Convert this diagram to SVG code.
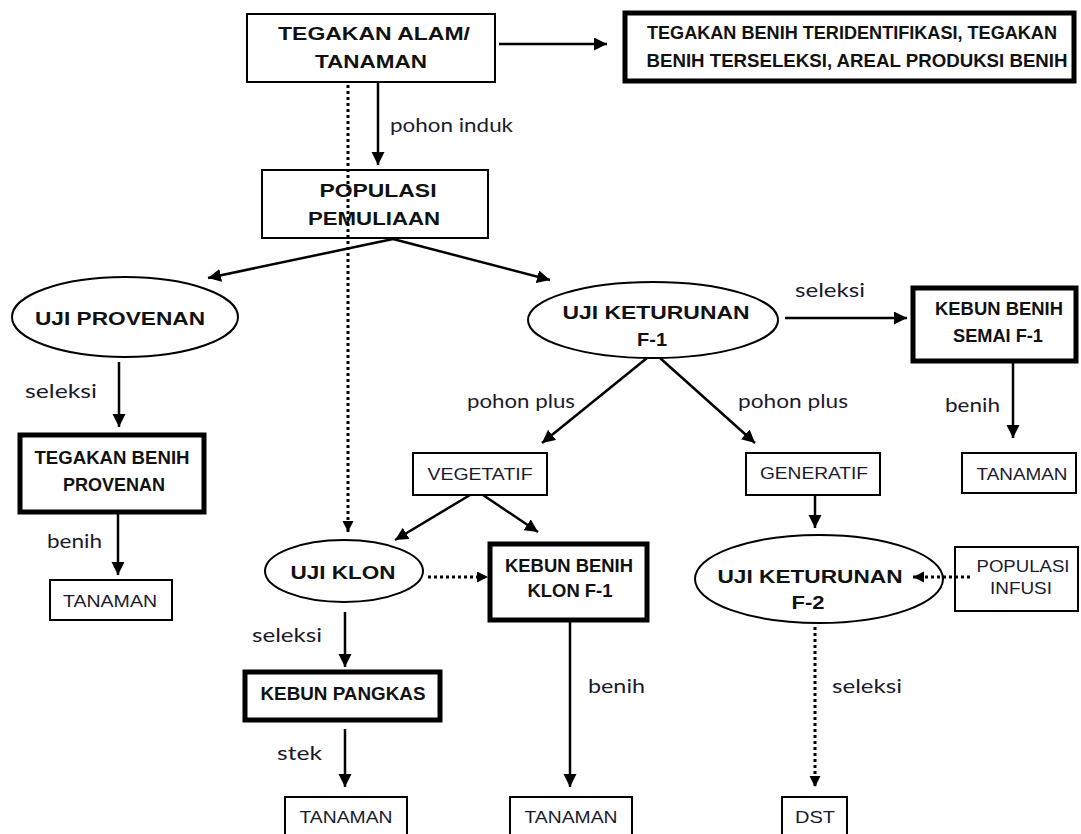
<svg xmlns="http://www.w3.org/2000/svg" width="1081" height="834" viewBox="0 0 1081 834">
<defs>
<marker id="ah" markerUnits="userSpaceOnUse" markerWidth="14" markerHeight="14" refX="13" refY="6.5" orient="auto">
<path d="M0,0 L13,6.5 L0,13 z" fill="#000"/>
</marker>
<marker id="ahs" markerUnits="userSpaceOnUse" markerWidth="12" markerHeight="12" refX="11" refY="5.5" orient="auto">
<path d="M0,0 L11,5.5 L0,11 z" fill="#000"/>
</marker>
</defs>
<style>
.box{fill:#fff;stroke:#000;stroke-width:2}
.thick{fill:#fff;stroke:#000;stroke-width:5}
.ell{fill:#fff;stroke:#000;stroke-width:2}
.b{font-family:"Liberation Sans",Arial,sans-serif;font-weight:bold;font-size:18px;fill:#111;text-anchor:middle}
.r{font-family:"Liberation Sans",Arial,sans-serif;font-size:17px;fill:#1a1a2e;text-anchor:middle}
.lbl{font-family:Lato,"Open Sans",sans-serif;font-size:19px;fill:#1a1a2e}
.c{stroke:#000;stroke-width:2.5;fill:none;marker-end:url(#ah)}
.d{stroke:#000;stroke-width:3;stroke-dasharray:3 3;fill:none;marker-end:url(#ahs)}
</style>
<rect width="1081" height="834" fill="#fff"/>

<g id="tegakan-alam">
<rect class="box" x="247" y="14" width="248" height="68"/>
<text class="b" x="374" y="40" textLength="192" lengthAdjust="spacingAndGlyphs" font-size="20">TEGAKAN ALAM/</text>
<text class="b" x="371" y="68" textLength="112" lengthAdjust="spacingAndGlyphs" font-size="20">TANAMAN</text>
</g>

<g id="tegakan-benih-teridentifikasi">
<rect class="thick" x="625" y="13" width="449" height="68"/>
<text class="b" x="852" y="39" textLength="410" lengthAdjust="spacingAndGlyphs" font-size="17">TEGAKAN BENIH TERIDENTIFIKASI, TEGAKAN</text>
<text class="b" x="857" y="67" textLength="421" lengthAdjust="spacingAndGlyphs" font-size="17">BENIH  TERSELEKSI, AREAL PRODUKSI BENIH</text>
</g>

<g id="populasi-pemuliaan">
<rect class="box" x="262" y="170" width="226" height="68"/>
<text class="b" x="378" y="197" textLength="117" lengthAdjust="spacingAndGlyphs" font-size="19">POPULASI</text>
<text class="b" x="374" y="225" textLength="132" lengthAdjust="spacingAndGlyphs" font-size="19">PEMULIAAN</text>
</g>

<g id="uji-provenan">
<ellipse class="ell" cx="125" cy="317" rx="113" ry="40"/>
<text class="b" x="120" y="325" textLength="170" lengthAdjust="spacingAndGlyphs" font-size="19">UJI PROVENAN</text>
</g>

<g id="tegakan-benih-provenan">
<rect class="thick" x="20" y="435" width="184" height="77"/>
<text class="b" x="112" y="464" textLength="155" lengthAdjust="spacingAndGlyphs">TEGAKAN BENIH</text>
<text class="b" x="114" y="491" textLength="102" lengthAdjust="spacingAndGlyphs">PROVENAN</text>
</g>

<g id="tanaman-1">
<rect class="box" x="50" y="580" width="122" height="40"/>
<text class="r" x="110" y="607" textLength="94" lengthAdjust="spacingAndGlyphs">TANAMAN</text>
</g>

<g id="uji-keturunan-f1">
<ellipse class="ell" cx="653" cy="320" rx="125" ry="38"/>
<text class="b" x="656" y="319" textLength="187" lengthAdjust="spacingAndGlyphs" font-size="19">UJI KETURUNAN</text>
<text class="b" x="652" y="346" textLength="30" lengthAdjust="spacingAndGlyphs" font-size="19">F-1</text>
</g>

<g id="kebun-benih-semai">
<rect class="thick" x="913" y="288" width="163" height="73"/>
<text class="b" x="999" y="315" textLength="128" lengthAdjust="spacingAndGlyphs">KEBUN BENIH</text>
<text class="b" x="998" y="342" textLength="90" lengthAdjust="spacingAndGlyphs">SEMAI F-1</text>
</g>

<g id="tanaman-semai">
<rect class="box" x="962" y="453" width="114" height="40"/>
<text class="r" x="1022" y="480" textLength="91" lengthAdjust="spacingAndGlyphs">TANAMAN</text>
</g>

<g id="vegetatif">
<rect class="box" x="413" y="453" width="134" height="42"/>
<text class="r" x="480" y="480" textLength="105" lengthAdjust="spacingAndGlyphs">VEGETATIF</text>
</g>

<g id="generatif">
<rect class="box" x="746" y="453" width="134" height="42"/>
<text class="r" x="814" y="479" textLength="108" lengthAdjust="spacingAndGlyphs">GENERATIF</text>
</g>

<g id="uji-klon">
<ellipse class="ell" cx="344" cy="571" rx="79" ry="31"/>
<text class="b" x="343" y="579" textLength="105" lengthAdjust="spacingAndGlyphs" font-size="19">UJI KLON</text>
</g>

<g id="kebun-benih-klon">
<rect class="thick" x="490" y="544" width="157" height="76"/>
<text class="b" x="569" y="572" textLength="128" lengthAdjust="spacingAndGlyphs">KEBUN BENIH</text>
<text class="b" x="570" y="597" textLength="85" lengthAdjust="spacingAndGlyphs">KLON F-1</text>
</g>

<g id="kebun-pangkas">
<rect class="thick" x="245" y="672" width="195" height="48"/>
<text class="b" x="343" y="700" textLength="165" lengthAdjust="spacingAndGlyphs">KEBUN PANGKAS</text>
</g>

<g id="uji-keturunan-f2">
<ellipse class="ell" cx="819" cy="579" rx="124" ry="44"/>
<text class="b" x="810" y="583" textLength="185" lengthAdjust="spacingAndGlyphs" font-size="19">UJI KETURUNAN</text>
<text class="b" x="808" y="609" textLength="33" lengthAdjust="spacingAndGlyphs" font-size="19">F-2</text>
</g>

<g id="populasi-infusi">
<rect class="box" x="955" y="547" width="123" height="64"/>
<text class="r" x="1023" y="572" textLength="93" lengthAdjust="spacingAndGlyphs">POPULASI</text>
<text class="r" x="1021" y="594" textLength="62" lengthAdjust="spacingAndGlyphs">INFUSI</text>
</g>

<g id="tanaman-pangkas">
<rect class="box" x="285" y="797" width="122" height="38"/>
<text class="r" x="346" y="823" textLength="93" lengthAdjust="spacingAndGlyphs">TANAMAN</text>
</g>

<g id="tanaman-klon">
<rect class="box" x="510" y="797" width="122" height="38"/>
<text class="r" x="571" y="823" textLength="93" lengthAdjust="spacingAndGlyphs">TANAMAN</text>
</g>

<g id="dst">
<rect class="box" x="782" y="797" width="65" height="38"/>
<text class="r" x="815" y="823" textLength="40" lengthAdjust="spacingAndGlyphs">DST</text>
</g>

<g id="connectors">
<line class="c" x1="499" y1="44" x2="607" y2="44"/>
<line class="c" x1="378" y1="82" x2="378" y2="165"/>
<line class="d" x1="348" y1="85" x2="348" y2="532"/>
<line class="c" x1="393" y1="239" x2="208" y2="278"/>
<line class="c" x1="393" y1="239" x2="550" y2="280"/>
<line class="c" x1="119" y1="362" x2="119" y2="427"/>
<line class="c" x1="118" y1="513" x2="118" y2="575"/>
<line class="c" x1="785" y1="318" x2="907" y2="318"/>
<line class="c" x1="1013" y1="362" x2="1013" y2="438"/>
<line class="c" x1="647" y1="358" x2="542" y2="443"/>
<line class="c" x1="660" y1="358" x2="755" y2="443"/>
<line class="c" x1="470" y1="495" x2="395" y2="540"/>
<line class="c" x1="483" y1="495" x2="538" y2="532"/>
<line class="c" x1="815" y1="495" x2="815" y2="528"/>
<line class="d" x1="428" y1="577" x2="488" y2="577"/>
<line class="c" x1="570" y1="622" x2="570" y2="787"/>
<line class="c" x1="345" y1="612" x2="345" y2="667"/>
<line class="c" x1="345" y1="729" x2="345" y2="787"/>
<line class="d" x1="970" y1="577" x2="913" y2="577"/>
<line class="d" x1="815" y1="627" x2="815" y2="787"/>
<text class="lbl" x="390" y="132" textLength="123" lengthAdjust="spacingAndGlyphs">pohon induk</text>
<text class="lbl" x="25" y="398" textLength="72" lengthAdjust="spacingAndGlyphs">seleksi</text>
<text class="lbl" x="47" y="548" textLength="55" lengthAdjust="spacingAndGlyphs">benih</text>
<text class="lbl" x="795" y="297" textLength="70" lengthAdjust="spacingAndGlyphs">seleksi</text>
<text class="lbl" x="467" y="408" textLength="108" lengthAdjust="spacingAndGlyphs">pohon plus</text>
<text class="lbl" x="738" y="408" textLength="110" lengthAdjust="spacingAndGlyphs">pohon plus</text>
<text class="lbl" x="945" y="412" textLength="55" lengthAdjust="spacingAndGlyphs">benih</text>
<text class="lbl" x="252" y="642" textLength="70" lengthAdjust="spacingAndGlyphs">seleksi</text>
<text class="lbl" x="277" y="760" textLength="45" lengthAdjust="spacingAndGlyphs">stek</text>
<text class="lbl" x="588" y="693" textLength="57" lengthAdjust="spacingAndGlyphs">benih</text>
<text class="lbl" x="832" y="693" textLength="70" lengthAdjust="spacingAndGlyphs">seleksi</text>
</g>
</svg>
